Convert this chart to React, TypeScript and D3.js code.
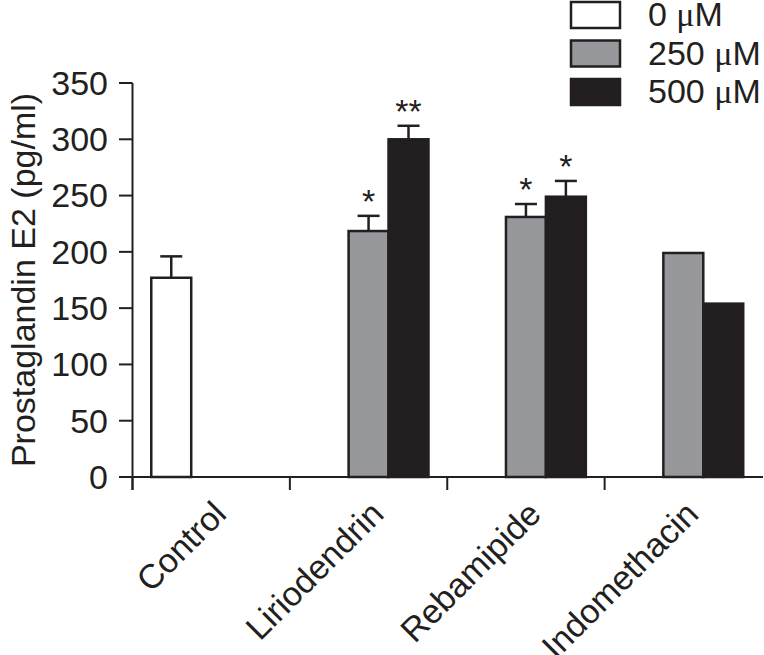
import React from "react";
import * as d3 from "d3";

const categories = ["Control", "Liriodendrin", "Rebamipide", "Indomethacin"];
const seriesNames = ["0 \u03bcM", "250 \u03bcM", "500 \u03bcM"];
const values0 = [177, null, null, null];
const values250 = [null, 218.5, 231, 199];
const values500 = [null, 300, 249, 154];
const err0 = [19, null, null, null];
const err250 = [null, 13.5, 11.5, null];
const err500 = [null, 12, 14, null];
const sig0 = ["", "", "", ""];
const sig250 = ["", "*", "*", ""];
const sig500 = ["", "**", "*", ""];
const yTicks = [0, 50, 100, 150, 200, 250, 300, 350];

const fills = ["#ffffff", "#97989b", "#231f20"];
const ink = "#231f20";
const FONT = "Liberation Sans, Arial, Helvetica, sans-serif";
const SERIF = "Liberation Serif, Times New Roman, serif";

export default function App() {
  const W = 764, H = 655;
  const y = d3.scaleLinear().domain([0, 350]).range([477, 83]);
  const x0 = d3.scaleBand<string>().domain(categories).range([132.5, 762]).padding(0);
  const x1 = d3.scaleBand<string>().domain(seriesNames).range([0, x0.bandwidth()]).paddingInner(0).paddingOuter(0.47);
  const vals = [values0, values250, values500];
  const errs = [err0, err250, err500];
  const sigs = [sig0, sig250, sig500];

  const bars: any[] = [];
  categories.forEach((c, ci) => {
    seriesNames.forEach((s, si) => {
      const v = vals[si][ci];
      if (v == null) return;
      const bx = (x0(c) as number) + (x1(s) as number);
      const bw = x1.bandwidth();
      const e = errs[si][ci];
      const cx = bx + bw / 2;
      const topV = e != null ? v + e : v;
      bars.push(
        <g key={c + s}>
          {e != null && (
            <g stroke={ink} strokeWidth={2.5}>
              <line x1={cx} x2={cx} y1={y(v)} y2={y(v + e)} />
              <line x1={cx - 11} x2={cx + 11} y1={y(v + e)} y2={y(v + e)} />
            </g>
          )}
          <rect x={bx} y={y(v)} width={bw} height={y(0) - y(v)} fill={fills[si]} stroke={ink} strokeWidth={2.5} />
          {sigs[si][ci] && (
            <text x={cx} y={y(topV) - 3} textAnchor="middle" fontSize={34} fontFamily={FONT} fill={ink}>
              {sigs[si][ci]}
            </text>
          )}
        </g>
      );
    });
  });

  return (
    <svg width={W} height={H} style={{ position: "absolute", left: 0, top: 0, background: "#fff" }}>
      <rect x={0} y={0} width={W} height={H} fill="#fff" />
      {bars}
      {/* y axis */}
      <line x1={132.5} x2={132.5} y1={y(350)} y2={490} stroke={ink} strokeWidth={2} />
      {yTicks.map((t) => (
        <g key={t}>
          <line x1={119} x2={132.5} y1={y(t)} y2={y(t)} stroke={ink} strokeWidth={2} />
          <text x={108} y={y(t)} dy="0.35em" textAnchor="end" fontSize={34} fontFamily={FONT} fill={ink}>
            {t}
          </text>
        </g>
      ))}
      {/* x axis */}
      <line x1={119} x2={763} y1={y(0)} y2={y(0)} stroke={ink} strokeWidth={2} />
      {categories.map((c) => (
        <line key={c} x1={x0(c)} x2={x0(c)} y1={y(0)} y2={490} stroke={ink} strokeWidth={2} />
      ))}
      {categories.map((c) => {
        const cx = (x0(c) as number) + x0.bandwidth() / 2;
        return (
          <text key={c} transform={`translate(${cx + 17},${516}) rotate(-45)`} textAnchor="end" fontSize={34} fontFamily={FONT} fill={ink}>
            {c}
          </text>
        );
      })}
      <text transform={`translate(35,${(y(0) + y(350)) / 2}) rotate(-90)`} textAnchor="middle" fontSize={34} fontFamily={FONT} fill={ink}>
        Prostaglandin E2 (pg/ml)
      </text>
      {/* legend */}
      {seriesNames.map((s, i) => {
        const parts = s.split("\u03bc");
        return (
          <g key={s} transform={`translate(0,${i * 38.5})`}>
            <rect x={571} y={2} width={49} height={26} fill={fills[i]} stroke={ink} strokeWidth={2.5} />
            <text x={648} y={26} fontSize={34} fontFamily={FONT} fill={ink}>
              {parts[0]}
              <tspan fontFamily={SERIF}>{"\u03bc"}</tspan>
              {parts[1]}
            </text>
          </g>
        );
      })}
    </svg>
  );
}
